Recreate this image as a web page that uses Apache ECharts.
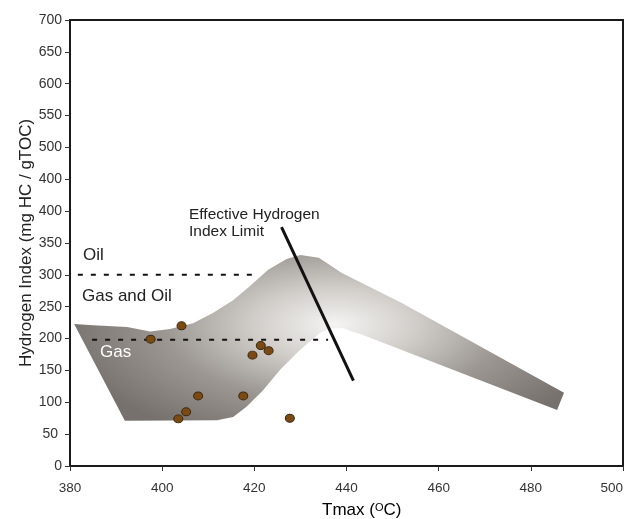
<!DOCTYPE html>
<html lang="en">

<head>
  <meta charset="UTF-8">
  <title>Hydrogen Index vs Tmax</title>
  <script src="https://cdn.jsdelivr.net/npm/echarts@6/dist/echarts.min.js"></script>
  <style>
    html, body { margin: 0; padding: 0; background: #fff; }
    #echarts { width: 630px; height: 519px; }
  </style>
</head>

<body>
  <div id="echarts"></div>
</body>

</html>
<script>
  // maturity band outline (Tmax, HI), clockwise from top-left
  const bandTmax = [380.9, 385, 392.4, 397.4, 401.7, 406.7, 411, 415.4, 419, 423, 427, 430, 434, 439, 452, 487.2,
    485.7, 452, 443, 440.8, 439.2, 436.4, 434.3, 429.9, 425.6, 421.9, 418.3, 415.4, 411.9, 391.9];
  const bandHI = [223, 221, 218, 211, 215, 224, 240, 260, 282, 308, 325, 331, 327, 303, 256, 115,
    88, 182, 207, 212, 216.6, 216, 209, 182, 151, 119, 93, 77, 72, 71];

  // samples
  const sampleTmax = [404.2, 397.5, 421.4, 423.1, 419.6, 407.8, 417.6, 405.2, 403.5, 427.7];
  const sampleHI = [220, 199, 189, 181, 174, 110, 110, 85, 74, 75];

  // boundary lines
  const oilLineTmax = [381.7, 419.7];
  const oilLineHI = [300, 300];
  const gasLineTmax = [384.8, 436];
  const gasLineHI = [198, 198];
  const limitTmax = [425.9, 441.5];
  const limitHI = [375, 134];

  const xTicks = [380, 400, 420, 440, 460, 480, 500];
  const yTickLabels = ['0', '50 ', '100', '150', '200', '250', '300', '350', '400', '400', '500', '550', '600', '650', '700'];

  const zip = (a, b) => a.map((v, i) => [v, b[i]]);

  let myChart = echarts.init(document.getElementById('echarts'));

  const textFont = 'Liberation Sans, Arial, sans-serif';

  myChart.setOption({
    animation: false,
    textStyle: { fontFamily: textFont },
    grid: {
      left: 70, right: 7, top: 20, bottom: 53,
      outerBoundsMode: 'none',
      show: true, borderColor: '#1a1a1a', borderWidth: 2
    },
    xAxis: {
      type: 'value', min: xTicks[0], max: xTicks[xTicks.length - 1], interval: 20,
      axisLine: { lineStyle: { color: '#1a1a1a', width: 2 } },
      axisTick: { show: true, length: 5, lineStyle: { color: '#333' } },
      axisLabel: { color: '#333', fontSize: 13.5, margin: 15, alignMaxLabel: 'right' },
      splitLine: { show: false }
    },
    yAxis: {
      type: 'value', min: 0, max: 700, interval: 50,
      name: 'Hydrogen Index (mg HC / gTOC)',
      nameLocation: 'middle', nameGap: 35, nameMoveOverlap: false,
      nameTextStyle: { fontSize: 17, color: '#222' },
      axisLine: { show: true, lineStyle: { color: '#1a1a1a', width: 2 } },
      axisTick: { show: true, length: 5, lineStyle: { color: '#333' } },
      axisLabel: {
        color: '#333', fontSize: 14, margin: 8,
        formatter: (v) => yTickLabels[Math.round(v / 50)]
      },
      splitLine: { show: false }
    },
    graphic: [
      { type: 'text', left: 189, top: 206, style: { text: 'Effective Hydrogen\nIndex Limit', lineHeight: 17, fill: '#222', font: '15.5px ' + textFont } },
      { type: 'text', left: 83, top: 247, style: { text: 'Oil', fill: '#222', font: '17px ' + textFont } },
      { type: 'text', left: 82, top: 288, style: { text: 'Gas and Oil', fill: '#222', font: '17px ' + textFont } },
      { type: 'text', left: 100, top: 344, z: 100, style: { text: 'Gas', fill: '#fff', font: '17px ' + textFont } },
      {
        type: 'text', left: 322, top: 502,
        style: {
          text: '{a|Tmax (}{s|O}{a|C)}',
          rich: {
            a: { fontSize: 17, color: '#222', fontFamily: textFont },
            s: { fontSize: 11, color: '#222', fontFamily: textFont, verticalAlign: 'top', padding: [0, 0, 6, 0] }
          }
        }
      }
    ],
    series: [
      {
        type: 'custom',
        data: [0],
        z: 1,
        renderItem: function (params, api) {
          const c = api.coord([437.5, 222]);
          const k = 0.45;
          const pts = zip(bandTmax, bandHI).map(p => {
            const q = api.coord(p);
            return [q[0], c[1] + (q[1] - c[1]) / k];
          });
          return {
            type: 'polygon',
            originX: c[0], originY: c[1], scaleY: k,
            shape: { points: pts },
            style: {
              fill: new echarts.graphic.RadialGradient(c[0], c[1], 275, [
                { offset: 0, color: '#f5f4f2' },
                { offset: 0.3, color: '#d0cdc9' },
                { offset: 0.62, color: '#9c9792' },
                { offset: 1, color: '#76716c' }
              ], true),
              stroke: null
            }
          };
        }
      },
      {
        type: 'line', data: zip(oilLineTmax, oilLineHI), symbol: 'none', z: 3,
        lineStyle: { color: '#111', width: 2, type: [5, 8] }
      },
      {
        type: 'line', data: zip(gasLineTmax, gasLineHI), symbol: 'none', z: 3,
        lineStyle: { color: '#111', width: 2, type: [5, 8] }
      },
      {
        type: 'line', data: zip(limitTmax, limitHI), symbol: 'none', z: 4,
        lineStyle: { color: '#111', width: 3 }
      },
      {
        type: 'scatter', data: zip(sampleTmax, sampleHI), z: 5,
        symbol: 'circle', symbolSize: [9, 8],
        itemStyle: { color: '#7b4a12', borderColor: '#3b2a14', borderWidth: 1, opacity: 1 }
      }
    ]
  });
</script>
